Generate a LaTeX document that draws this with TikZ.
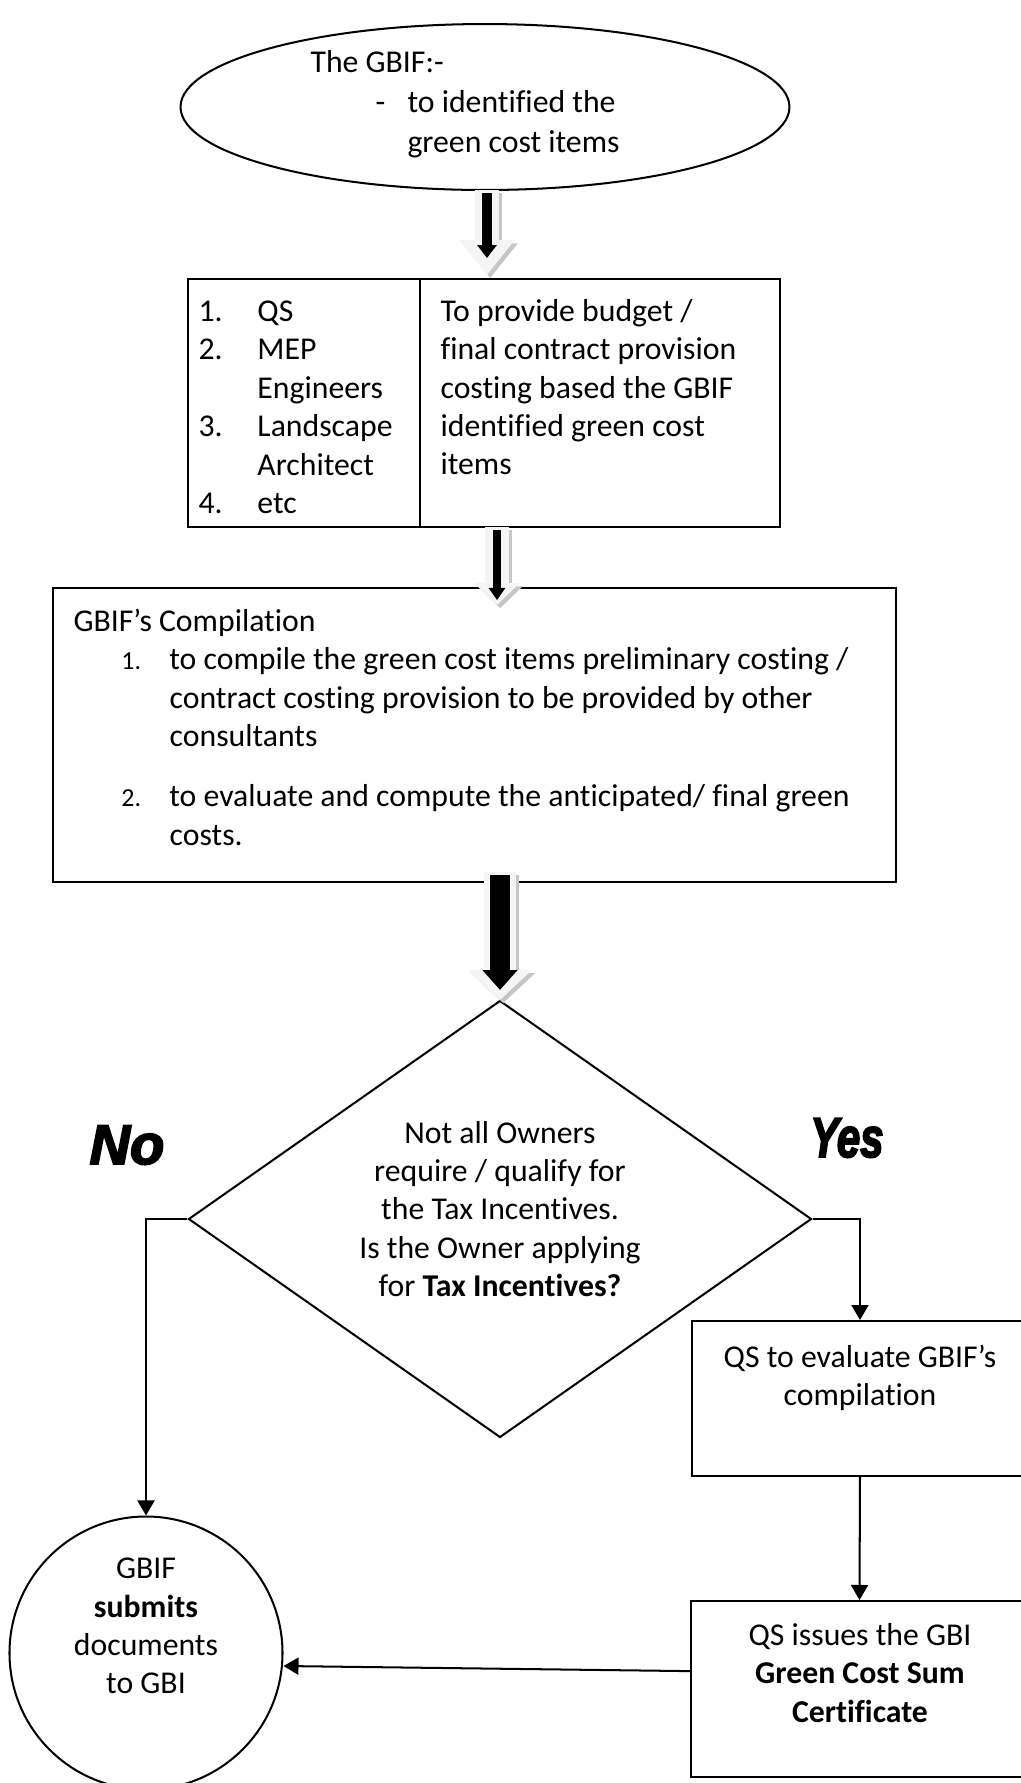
\documentclass[tikz,border=0pt]{standalone}
\usepackage{graphicx}
\usepackage{fontspec}
\setmainfont{Carlito}[Ligatures=NoCommon,Contextuals=NoAlternate]
\newfontfamily\heavyfont{Liberation Sans}[FakeBold=3.5]
\usetikzlibrary{shapes.geometric,arrows.meta,fit}

% hollow 3d arrow: from, to, shaft, head width, head length, inner shaft, inner head width, inner head length, inner shortening
\newcommand{\fatarrow}[9]{%
  \draw[gray!45,line width=#3,-{Triangle[width=#4,length=#5]}] ([shift={(1.1pt,-1.1pt)}]#1) -- ([shift={(1.1pt,-1.1pt)}]#2);
  \draw[gray!8,line width=#3,-{Triangle[width=#4,length=#5]}] (#1) -- (#2);
  \draw[black,line width=#6,shorten >=#9,-{Triangle[width=#7,length=#8]}] ([yshift=-1pt]#1) -- (#2);
}

\begin{document}
\begin{tikzpicture}[x=0.3465pt,y=-0.3465pt,
  every node/.style={font=\fontsize{11pt}{13.3pt}\selectfont},
  frame/.style={draw,line width=0.7pt,inner sep=0pt},
  conn/.style={line width=0.7pt,-{Triangle[length=5.2pt,width=5.9pt]}},
  txt/.style={anchor=north west,align=left,inner sep=0pt},
  yesno/.style={font=\heavyfont\fontsize{19.4pt}{20pt}\selectfont\bfseries\itshape}]
  \useasboundingbox (0,0) rectangle (1020,1783);

  % top: the GBIF
  \node[frame,ellipse,minimum width=211pt,minimum height=57.5pt] (gbif) at (485,107) {};
  \node[txt] (gbiftxt) at (310,45) {\strut The GBIF:-\\[0.6pt]
    \hspace*{22.5pt}\makebox[11.1pt][l]{-}to identified the\\[0.6pt]
    \hspace*{33.6pt}green cost items};

  % consultants and their task
  \node[frame,fit={(188,279) (420,527)}] (team) {};
  \node[frame,fit={(420,279) (780,527)}] (task) {};
  \node[txt] (teamtxt) at (198,294) {\strut\makebox[20.4pt][l]{1.}QS\\
    \makebox[20.4pt][l]{2.}MEP\\
    \hspace*{20.4pt}Engineers\\
    \makebox[20.4pt][l]{3.}Landscape\\
    \hspace*{20.4pt}Architect\\
    \makebox[20.4pt][l]{4.}etc};
  \node[txt] (tasktxt) at (440,294) {\strut To provide budget /\\
    final contract provision\\
    costing based the GBIF\\
    identified green cost\\
    items};

  % compilation
  \node[frame,fit={(53,588) (896,882)}] (compile) {};
  \node[txt] (compiletxt) at (73,604) {\strut GBIF’s Compilation\\
    \hspace*{16.6pt}\makebox[16.6pt][l]{\fontsize{9pt}{13.3pt}\selectfont 1.}to compile the green cost items preliminary costing /\\
    \hspace*{33.3pt}contract costing provision to be provided by other\\
    \hspace*{33.3pt}consultants\\[7.6pt]
    \hspace*{16.6pt}\makebox[16.6pt][l]{\fontsize{9pt}{13.3pt}\selectfont 2.}to evaluate and compute the anticipated/ final green\\
    \hspace*{33.3pt}costs.};

  % decision
  \node[frame,diamond,minimum width=215.9pt,minimum height=151.4pt] (tax) at (500,1219) {};
  \node[align=center] (taxtxt) at (500,1209)
    {Not all Owners\\ require / qualify for\\ the Tax Incentives.\\ Is the Owner applying\\ for \textbf{Tax Incentives?}};
  \node[yesno] (no) at (127,1145) {No};
  \node[yesno] (yes) at (847,1138) {\scalebox{0.75}[1]{Yes}};

  \node[frame,fit={(692,1321) (1028,1476)}] (qseval) {};
  \node[align=center] (qsevaltxt) at (860,1378) {QS to evaluate GBIF’s\\ compilation};
  \node[frame,fit={(691,1601) (1028,1777)}] (qscert) {};
  \node[align=center] (qscerttxt) at (860,1673) {QS issues the GBI\\ \textbf{Green Cost Sum}\\ \textbf{Certificate}};
  \node[frame,circle,minimum size=94.6pt] (submit) at (146,1653) {};
  \node[align=center] (submittxt) at (146,1626) {GBIF\\ \textbf{submits}\\ documents\\ to GBI};

  % block arrows
  \coordinate (a1s) at (487,190);  \coordinate (a1e) at (487,275);
  \coordinate (a2s) at (497,527);  \coordinate (a2e) at (497,605);
  \coordinate (a3s) at (500,872);  \coordinate (a3e) at (500,1000);
  \fatarrow{a1s}{a1e}{8pt}{18.4pt}{12.1pt}{3.5pt}{6.6pt}{4.5pt}{5.9pt}
  \fatarrow{a2s}{a2e}{8pt}{15.2pt}{7.6pt}{3.1pt}{5.5pt}{4.2pt}{1.7pt}
  \fatarrow{a3s}{a3e}{11.1pt}{21.5pt}{10.4pt}{6.6pt}{11.8pt}{6.9pt}{3.5pt}

  \draw[conn] (tax.west) -| (submit.north);
  \draw[conn] (tax.east) -| (qseval.north);
  \draw[conn] (qseval.south) -- (qscert.north);
  \draw[conn] ([yshift=6.2pt]qscert.west) -- ([yshift=-4.5pt]submit.east);
\end{tikzpicture}
\end{document}
